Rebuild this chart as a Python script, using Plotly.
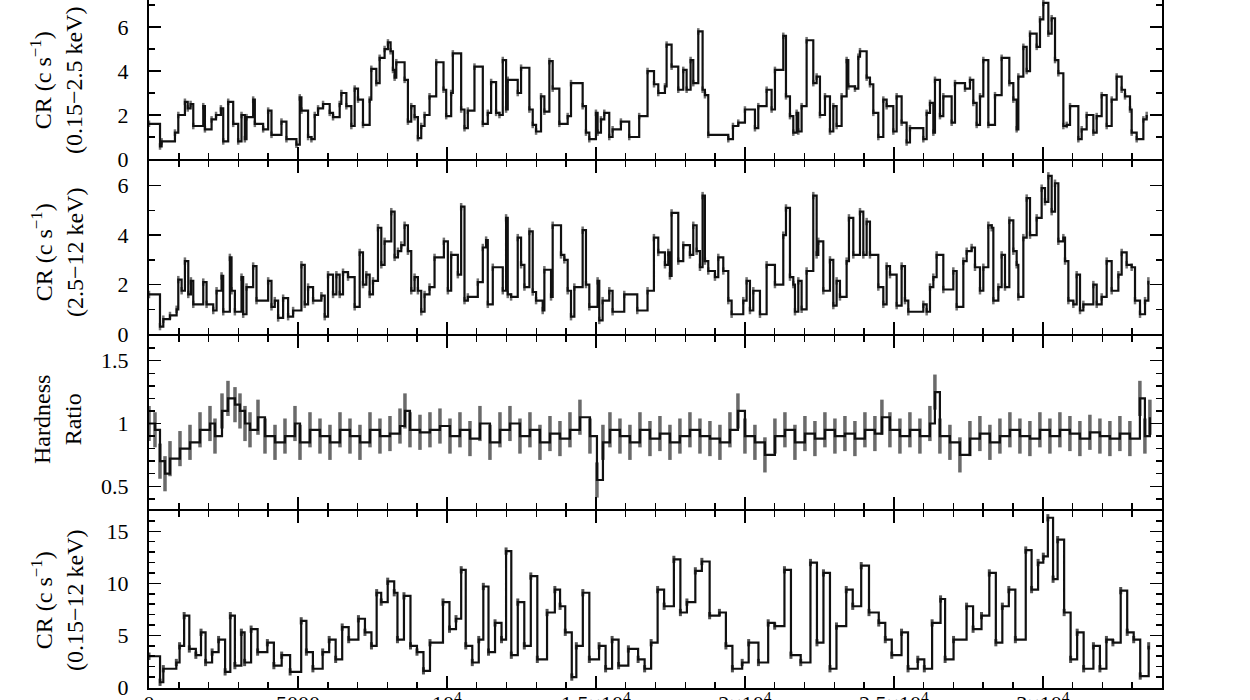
import plotly.graph_objects as go
from plotly.subplots import make_subplots

# ---------------- data ----------------
# Panel 1: CR 0.15-2.5 keV
t_soft = [0, 370, 424, 871, 983, 1206, 1300, 1396, 1486, 1821, 1877, 2100, 2250, 2413, 2491, 2658,
          2826, 2994, 3105, 3217, 3273, 3496, 3552, 3831, 3999, 4111, 4446, 4613, 4948, 5060, 5116,
          5339, 5451, 5563, 5674, 5842, 6065, 6177, 6400, 6456, 6624, 6791, 6903, 7015, 7182, 7406,
          7462, 7629, 7741, 7908, 8020, 8109, 8188, 8244, 8300, 8579, 8690, 8802, 8914, 9025, 9137,
          9249, 9416, 9640, 9885, 9975, 10142, 10198, 10477, 10589, 10701, 10924, 11204, 11371,
          11483, 11650, 11762, 11874, 11985, 12041, 12376, 12488, 12767, 12879, 12991, 13158, 13270,
          13438, 13549, 13773, 14052, 14164, 14555, 14666, 14778, 15001, 15057, 15169, 15281, 15448,
          15560, 15839, 16118, 16453, 16733, 16950, 17093, 17317, 17373, 17540, 17764, 17932, 18044,
          18178, 18268, 18436, 18581, 18659, 18771, 19443, 19600, 19778, 20002, 20338, 20450, 20730,
          20897, 21009, 21289, 21379, 21513, 21625, 21737, 21793, 21904, 22072, 22296, 22408, 22520,
          22688, 22856, 22968, 23079, 23247, 23415, 23471, 23695, 23807, 23863, 24087, 24198, 24310,
          24478, 24646, 24758, 24982, 25094, 25261, 25429, 25541, 25989, 26101, 26213, 26325, 26380,
          26548, 26660, 26940, 27052, 27388, 27555, 27667, 27779, 27891, 28003, 28171, 28395, 28618,
          28876, 29010, 29122, 29178, 29346, 29458, 29570, 29793, 29905, 30017, 30185, 30297, 30409,
          30521, 30689, 30801, 30913, 31192, 31304, 31472, 31696, 31808, 31975, 32143, 32311, 32479,
          32646, 32758, 32926, 32982, 33150, 33374, 33486, 33598]
cr_soft = [1.6, 0.57, 0.8, 1.2, 2.0, 2.6, 2.3, 2.5, 1.5, 2.4, 1.35, 1.8, 2.0, 2.3, 0.8, 2.6,
           1.6, 0.8, 2.0, 0.9, 1.9, 2.7, 1.6, 1.35, 2.2, 1.1, 1.7, 0.9, 0.65, 2.8, 2.2,
           1.0, 0.9, 2.0, 2.3, 2.5, 2.1, 1.9, 2.5, 3.0, 2.4, 1.5, 3.2, 2.7, 1.55, 2.7,
           4.1, 3.45, 4.6, 5.0, 5.3, 4.9, 4.05, 3.7, 4.4, 3.6, 1.7, 2.4, 1.9, 0.95,
           1.5, 2.0, 2.85, 4.4, 3.15, 1.95, 3.0, 4.8, 2.25, 1.4, 2.2, 4.2, 1.6,
           2.1, 3.5, 2.1, 2.0, 4.5, 2.25, 3.6, 3.0, 4.15, 2.25, 1.55, 1.25, 2.85,
           2.15, 4.45, 3.2, 1.6, 1.95, 3.45, 2.4, 1.2, 0.9, 2.1, 1.2, 1.8, 2.1,
           1.0, 1.35, 1.7, 1.0, 1.95, 4.0, 3.4, 3.0, 3.3, 5.2, 4.2, 3.15, 4.05,
           3.15, 4.5, 3.45, 5.8, 3.15, 2.9, 1.1, 0.9, 1.5, 1.65, 2.25, 1.4, 2.4,
           3.15, 2.25, 4.05, 5.6, 2.85, 1.95, 1.2, 2.1, 1.25, 2.4, 5.4, 3.45, 3.75,
           2.0, 2.85, 1.25, 2.4, 1.5, 2.85, 4.5, 3.3, 3.2, 4.65, 4.9, 3.7, 3.4,
           2.1, 1.0, 2.7, 2.4, 1.25, 2.85, 1.65, 0.75, 1.4, 0.9, 2.1, 2.55, 1.2,
           3.6, 1.95, 2.85, 1.65, 3.45, 3.2, 3.6, 2.55, 1.55, 2.85, 4.5, 1.55, 2.9,
           4.6, 3.45, 2.7, 1.35, 3.75, 5.1, 4.0, 5.7, 5.1, 6.35, 7.1, 5.7, 6.4,
           4.5, 3.9, 1.5, 1.55, 2.4, 0.9, 1.35, 2.0, 1.2, 1.95, 2.9, 1.5, 2.7,
           3.75, 3.15, 2.85, 2.25, 1.2, 0.9, 1.8, 2.0]

# Panel 2: CR 2.5-12 keV
t_hard = [0, 369, 480, 704, 927, 983, 1095, 1206, 1318, 1407, 1486, 1821, 1932, 2156, 2268, 2435,
          2491, 2714, 2770, 2882, 3105, 3161, 3273, 3496, 3608, 3999, 4111, 4222, 4334, 4502, 4669,
          4837, 5116, 5228, 5339, 5507, 5786, 5898, 6009, 6177, 6289, 6400, 6512, 6680, 6903, 7071,
          7182, 7294, 7406, 7518, 7685, 7797, 7908, 8132, 8244, 8356, 8467, 8579, 8690, 8802, 8914,
          9025, 9137, 9249, 9416, 9584, 9897, 10031, 10142, 10366, 10477, 10589, 10701, 11036, 11204,
          11315, 11371, 11539, 11874, 11985, 12041, 12153, 12376, 12488, 12600, 12767, 12879, 12991,
          13214, 13270, 13494, 13549, 13829, 13940, 14052, 14164, 14276, 14555, 14666, 14778, 15057,
          15113, 15225, 15448, 15560, 15951, 16388, 16733, 16947, 17093, 17317, 17428, 17484, 17540,
          17764, 17932, 18156, 18268, 18380, 18492, 18581, 18659, 18771, 18995, 19107, 19275, 19443,
          19555, 19946, 20058, 20170, 20282, 20506, 20730, 21009, 21289, 21379, 21513, 21625, 21681,
          21793, 21904, 22072, 22296, 22408, 22464, 22632, 22856, 22968, 23079, 23191, 23415, 23493,
          23639, 23863, 23975, 24087, 24198, 24478, 24646, 24758, 24870, 25094, 25261, 25373, 25485,
          25989, 26101, 26213, 26325, 26436, 26660, 26996, 27108, 27332, 27444, 27611, 27723, 27891,
          28003, 28171, 28283, 28339, 28507, 28618, 28730, 28876, 29010, 29122, 29178, 29346, 29458,
          29570, 29793, 29961, 30073, 30185, 30297, 30409, 30521, 30689, 30745, 30857, 31024, 31136,
          31248, 31360, 31696, 31808, 31975, 32143, 32311, 32535, 32646, 32814, 32982, 33094, 33262,
          33430, 33542]
cr_hard = [1.6, 0.3, 0.6, 0.75, 1.0, 2.2, 1.75, 2.95, 1.6, 2.15, 1.2, 2.1, 1.2, 0.95, 1.75, 2.35,
           0.9, 3.1, 1.75, 0.9, 2.3, 0.8, 1.9, 2.75, 1.35, 2.15, 1.1, 1.35, 0.65, 1.45, 0.7,
           0.95, 2.8, 1.2, 1.9, 1.35, 1.55, 0.7, 2.4, 1.6, 2.4, 1.6, 2.5, 2.3, 1.1, 3.3,
           2.0, 2.4, 1.6, 2.15, 4.3, 2.8, 3.75, 4.95, 3.1, 3.35, 3.6, 4.4, 3.35, 1.75, 2.3,
           1.75, 0.9, 1.6, 1.9, 3.1, 3.75, 1.75, 3.2, 2.4, 5.15, 1.35, 1.5, 2.1, 3.5,
           3.8, 1.2, 2.7, 1.75, 4.7, 1.6, 1.5, 3.9, 2.8, 1.9, 4.15, 1.7, 1.35,
           0.95, 2.6, 1.5, 4.4, 3.2, 3.0, 1.75, 0.7, 1.9, 4.2, 2.0, 1.1, 2.15,
           0.55, 1.35, 1.75, 0.9, 1.6, 0.95, 1.75, 3.9, 3.3, 2.8, 3.3, 2.35, 4.9,
           2.95, 3.6, 3.2, 4.4, 3.35, 2.7, 5.6, 2.95, 2.55, 2.3, 3.1, 2.55, 1.35,
           0.8, 1.35, 2.15, 0.95, 1.75, 0.8, 2.8, 2.0, 4.0, 5.1, 2.3, 2.0, 0.9,
           2.15, 1.0, 2.55, 5.6, 3.2, 3.75, 1.75, 3.0, 1.15, 2.15, 1.5, 2.95, 4.7,
           3.2, 4.95, 3.2, 4.55, 3.2, 1.9, 1.2, 2.75, 2.4, 1.15, 2.75, 1.35, 0.9,
           1.2, 0.9, 1.9, 2.3, 3.2, 1.8, 2.55, 1.1, 2.95, 3.35, 3.5, 2.7, 1.75,
           2.7, 4.4, 4.3, 1.35, 1.9, 3.2, 1.9, 4.6, 3.35, 2.8, 1.5, 3.9, 5.5,
           4.0, 4.7, 5.9, 5.35, 6.4, 4.95, 6.1, 3.75, 3.9, 2.95, 1.35, 1.2, 2.4,
           0.95, 1.2, 2.0, 1.2, 1.5, 2.95, 1.75, 2.4, 3.3, 2.8, 2.7, 1.35, 0.8,
           1.35, 2.15]

# Panel 3: hardness ratio
t_hr = [0, 201, 369, 537, 705, 1040, 1376, 1712, 2047, 2215, 2450, 2651, 2886, 3054, 3222, 3390,
        3658, 3893, 4229, 4564, 4900, 5068, 5403, 5739, 6074, 6410, 6746, 7081, 7417, 7752, 8088,
        8424, 8591, 8759, 9095, 9430, 9766, 10102, 10437, 10773, 11108, 11444, 11780, 12115,
        12451, 12786, 13122, 13458, 13793, 14129, 14464, 14800, 15035, 15236, 15471, 15807, 16142,
        16478, 16814, 17149, 17485, 17820, 18156, 18492, 18827, 19163, 19498, 19767, 20002, 20337,
        20673, 21008, 21344, 21680, 22015, 22351, 22686, 23022, 23358, 23693, 24029, 24364, 24599,
        24868, 25204, 25539, 25875, 26210, 26378, 26546, 26882, 27217, 27553, 27888, 28224, 28560,
        28895, 29231, 29566, 29902, 30238, 30573, 30909, 31244, 31580, 31916, 32251, 32587, 32922,
        33258, 33426, 33594]
hr = [1.0, 0.95, 0.7, 0.6, 0.72, 0.8, 0.85, 0.95, 1.0, 0.9, 1.1, 1.2, 1.15, 1.1, 1.0, 0.95,
      1.05, 0.9, 0.85, 0.9, 1.0, 0.85, 0.95, 0.9, 0.85, 0.95, 0.9, 0.85, 0.95, 0.9, 0.92,
      0.98, 1.1, 0.95, 0.93, 0.95, 0.98, 0.9, 0.95, 0.88, 1.0, 0.85, 0.95, 1.0,
      0.9, 0.95, 0.85, 0.92, 0.88, 0.95, 1.05, 0.9, 0.55, 0.85, 0.95, 0.9, 0.85,
      0.95, 0.88, 0.92, 0.85, 0.9, 0.95, 0.9, 0.88, 0.85, 0.95, 1.1, 0.9, 0.85,
      0.75, 0.9, 0.95, 0.85, 0.92, 0.88, 0.95, 0.9, 0.92, 0.88, 0.95, 0.92, 1.05,
      0.95, 0.9, 0.95, 0.9, 1.0, 1.25, 0.9, 0.85, 0.75, 0.88, 0.92, 0.85, 0.9,
      0.95, 0.9, 0.88, 0.95, 0.9, 0.95, 0.92, 0.88, 0.93, 0.9, 0.88, 0.92, 0.88,
      1.2, 0.9, 1.05]

# Panel 4: CR 0.15-12 keV
t_tot = [0, 371, 480, 917, 1026, 1179, 1353, 1572, 1746, 1899, 2118, 2336, 2554, 2729, 2882, 3100,
         3209, 3427, 3646, 3973, 4191, 4453, 4737, 5108, 5283, 5501, 5829, 6047, 6265, 6484, 6702,
         7029, 7248, 7466, 7641, 7793, 8012, 8230, 8339, 8557, 8776, 8994, 9212, 9431, 9867, 10085,
         10304, 10478, 10631, 10850, 11068, 11221, 11395, 11614, 11832, 11985, 12160, 12378, 12596,
         12815, 13033, 13360, 13622, 13797, 13971, 14190, 14343, 14561, 14779, 15106, 15325, 15543,
         15761, 16089, 16416, 16635, 16853, 17071, 17289, 17617, 17835, 18054, 18337, 18556, 18817,
         19145, 19363, 19581, 19909, 20127, 20455, 20782, 21000, 21328, 21546, 21874, 22201, 22419,
         22637, 22856, 23074, 23402, 23620, 23904, 24166, 24493, 24712, 24930, 25258, 25476, 25803,
         26022, 26284, 26568, 26720, 27004, 27441, 27659, 27942, 28204, 28423, 28641, 28859, 29078,
         29427, 29623, 29841, 30016, 30169, 30344, 30497, 30715, 30933, 31152, 31370, 31698, 31916,
         32134, 32352, 32614, 32832, 33050, 33269, 33553]
cr_tot = [3.0, 0.5, 1.8, 2.4, 4.0, 6.9, 3.7, 3.1, 5.3, 2.4, 3.4, 4.6, 1.5, 6.9, 2.1, 5.3,
          2.4, 5.6, 3.4, 4.3, 2.1, 3.1, 1.5, 6.4, 3.4, 1.8, 3.4, 4.6, 2.7, 5.8, 4.6,
          6.6, 5.3, 4.0, 9.1, 8.2, 10.2, 9.1, 4.6, 8.8, 4.0, 3.4, 1.6, 4.3, 8.2, 5.6,
          6.6, 11.3, 4.0, 2.4, 4.6, 9.7, 3.4, 6.2, 4.6, 13.1, 3.1, 8.2, 4.0,
          10.7, 2.7, 7.2, 9.4, 7.8, 5.3, 1.0, 4.0, 9.1, 2.7, 4.0, 1.8, 4.6,
          2.1, 3.7, 2.7, 1.8, 4.3, 9.4, 7.8, 12.3, 7.2, 8.2, 11.2, 12.1, 6.9,
          7.2, 4.0, 1.8, 2.4, 4.3, 2.4, 6.2, 5.9, 11.3, 3.1, 2.4, 12.0, 4.3,
          11.0, 1.8, 5.9, 9.4, 7.8, 11.7, 7.2, 6.2, 4.6, 3.1, 5.3, 1.8, 2.7,
          1.8, 6.2, 8.5, 2.7, 4.6, 7.8, 5.6, 6.9, 11.0, 4.3, 7.8, 9.4, 4.6,
          13.2, 9.4, 12.0, 12.6, 16.3, 10.4, 14.2, 7.2, 2.7, 5.3, 1.8, 4.0, 1.8,
          4.6, 4.3, 9.3, 5.3, 4.6, 1.1, 4.0]

x_tickvals = [0, 5000, 10000, 15000, 20000, 25000, 30000]
x_ticktext = ["0", "5000", "10<sup>4</sup>", "1.5×10<sup>4</sup>", "2×10<sup>4</sup>",
              "2.5×10<sup>4</sup>", "3×10<sup>4</sup>"]

# ---------------- figure ----------------
FONT = "Liberation Serif"
fig = make_subplots(rows=4, cols=1, shared_xaxes=True, vertical_spacing=0)

# (x, y, error half-size, error colour, error thickness)
series = [(t_soft, cr_soft, 0.15, "#707070", 2.5),
          (t_hard, cr_hard, 0.15, "#707070", 2.5),
          (t_hr, hr, 0.14, "#6a6a6a", 3.5),
          (t_tot, cr_tot, 0.35, "#505050", 3)]
for i, (tx, vy, err, ecol, eth) in enumerate(series, start=1):
    fig.add_trace(go.Scatter(
        x=tx, y=vy, mode="lines", line=dict(color="#111111", width=2.2, shape="hv"),
        error_y=dict(type="constant", value=err, color=ecol, thickness=eth, width=0),
        showlegend=False, hoverinfo="skip"), row=i, col=1)

# plot area: x 149..1162, y 0..688 (px from top); panels separated so that the
# shared borders coincide
H = 688.0
edges = [(0, 159), (161, 334), (336, 509), (511, 688)]
domains = [[(H - b) / H, (H - t) / H] for t, b in edges]
domains[0][1] = 1.0
domains[3][0] = 0.0
yranges = [[0, 7.23], [0, 7.0], [0.319, 1.697], [-0.05, 16.95]]
ydticks = [2, 2, 0.5, 5]
yminor = [1, 1, 0.1, 1]

axis_common = dict(showline=True, linecolor="black", linewidth=2, ticks="inside",
                   ticklen=12, tickwidth=1.5, tickcolor="black", showgrid=False,
                   zeroline=False, automargin=False, ticklabeloverflow="allow",
                   tickfont=dict(family=FONT, size=22, color="black"))

for i in range(4):
    ya = "yaxis" if i == 0 else f"yaxis{i+1}"
    xa = "xaxis" if i == 0 else f"xaxis{i+1}"
    fig.layout[ya].update(domain=domains[i], range=yranges[i], dtick=ydticks[i],
                          tick0=0, mirror="ticks", ticklabelstandoff=14,
                          minor=dict(ticks="inside", ticklen=6, dtick=yminor[i], tick0=0,
                                     tickcolor="black", tickwidth=1.5),
                          **axis_common)
    fig.layout[xa].update(range=[0, 34000], tickvals=x_tickvals,
                          mirror=(False if i == 0 else "ticks"),
                          minor=dict(ticks="inside", ticklen=6, dtick=1000, tick0=0,
                                     tickcolor="black", tickwidth=1.5),
                          **axis_common)
fig.layout["xaxis4"].update(ticktext=x_ticktext, showticklabels=True, ticklabelstandoff=-5)
fig.layout["yaxis3"].update(tickvals=[0.5, 1, 1.5], ticktext=["0.5", "1", "1.5"])
fig.layout["yaxis4"].update(tickvals=[0, 5, 10, 15], ticktext=["0", "5", "10", "15"])


def px2paper_x(px):
    return (px - 149) / 1013.0


def px2paper_y(py):
    return (H - py) / H


labels = [
    ("CR (c s<sup>−1</sup>)<br>(0.15−2.5 keV)", 80),
    ("CR (c s<sup>−1</sup>)<br>(2.5−12 keV)", 252),
    ("Hardness<br>Ratio", 420),
    ("CR (c s<sup>−1</sup>)<br>(0.15−12 keV)", 600),
]
for text, cy in labels:
    fig.add_annotation(text=text, xref="paper", yref="paper", x=px2paper_x(57),
                       y=px2paper_y(cy), xanchor="center", yanchor="middle",
                       textangle=-90, showarrow=False,
                       font=dict(family=FONT, size=24, color="black"))

fig.update_layout(width=1250, height=700, paper_bgcolor="white", plot_bgcolor="white",
                  margin=dict(l=149, r=88, t=0, b=12, autoexpand=False),
                  font=dict(family=FONT, size=22, color="black"))

fig.write_html("out.html",
               config={"displayModeBar": False, "staticPlot": True},
               post_script="document.body.style.margin='0';"
                           "document.body.style.overflow='hidden';")
